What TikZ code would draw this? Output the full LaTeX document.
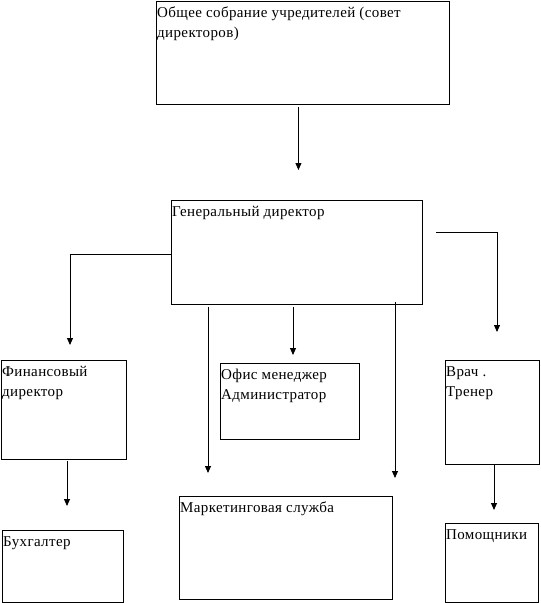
\documentclass[tikz,border=0pt]{standalone}
\usepackage{fontspec}
\setmainfont[LetterSpace=2.5]{Liberation Serif}
\usepackage{tikz}
\usetikzlibrary{arrows.meta, positioning, calc}
\tikzset{
  unit/.style    = {rectangle, draw=black, line width=0.9pt, anchor=north west,
                    inner sep=0pt},
  boxtext/.style = {anchor=north west, align=left, inner xsep=1pt, inner ysep=2pt,
                    font=\fontsize{15}{20}\selectfont},
  arr/.style     = {-{Triangle[length=7pt,width=6pt]}, line width=0.9pt, draw=black}
}

\begin{document}
\begin{tikzpicture}[x=1pt, y=-1pt]
  \useasboundingbox (0,0) rectangle (541,603);
  \node[unit, minimum width=293pt, minimum height=103pt] (board)  at (156,1)
    [label={[boxtext]north west:\strut Общее собрание учредителей (совет\\директоров)}] {};
  \node[unit, minimum width=251pt, minimum height=104pt] (gen)    at (171,200)
    [label={[boxtext]north west:\strut Генеральный директор}] {};
  \node[unit, minimum width=125pt, minimum height=99pt]  (fin)    at (1,360)
    [label={[boxtext]north west:\strut Финансовый\\директор}] {};
  \node[unit, minimum width=139pt, minimum height=76pt]  (office) at (220,363)
    [label={[boxtext]north west:\strut Офис менеджер\\Администратор}] {};
  \node[unit, minimum width=94pt,  minimum height=104pt] (doctor) at (445,360)
    [label={[boxtext]north west:\strut Врач .\\Тренер}] {};
  \node[unit, minimum width=121pt, minimum height=72pt]  (acct)   at (2,530)
    [label={[boxtext]north west:\strut Бухгалтер}] {};
  \node[unit, minimum width=213pt, minimum height=103pt] (market) at (179,496)
    [label={[boxtext]north west:\strut Маркетинговая служба}] {};
  \node[unit, minimum width=93pt,  minimum height=79pt]  (assist) at (445,523)
    [label={[boxtext]north west:\strut Помощники}] {};
  % connectors
  \draw[arr, shorten <=2pt, shorten >=30pt] ([xshift=-4.5pt]board.south) -- ([xshift=-4.5pt]board.south |- gen.north);
  \draw[arr, shorten >=15pt] ([yshift=-2pt]gen.west) -| ([xshift=69pt]fin.north west);
  \draw[arr, shorten >=28pt] ([shift={(13,32)}]gen.north east) -| ([xshift=52pt]doctor.north west);
  \draw[arr, shorten <=2pt, shorten >=23pt] ([xshift=37pt]gen.south west) -- ([xshift=37pt]gen.south west |- market.north);
  \draw[arr, shorten <=2pt, shorten >=8pt] ([xshift=122pt]gen.south west) -- ([xshift=122pt]gen.south west |- office.north);
  \draw[arr, shorten <=-3pt, shorten >=18pt] ([xshift=224pt]gen.south west) -- ([xshift=224pt]gen.south west |- market.north);
  \draw[arr, shorten <=1pt, shorten >=24pt] ([xshift=66pt]fin.south west) -- ([xshift=66pt]fin.south west |- acct.north);
  \draw[arr, shorten >=13pt] ([xshift=49pt]doctor.south west) -- ([xshift=49pt]doctor.south west |- assist.north);
\end{tikzpicture}
\end{document}
